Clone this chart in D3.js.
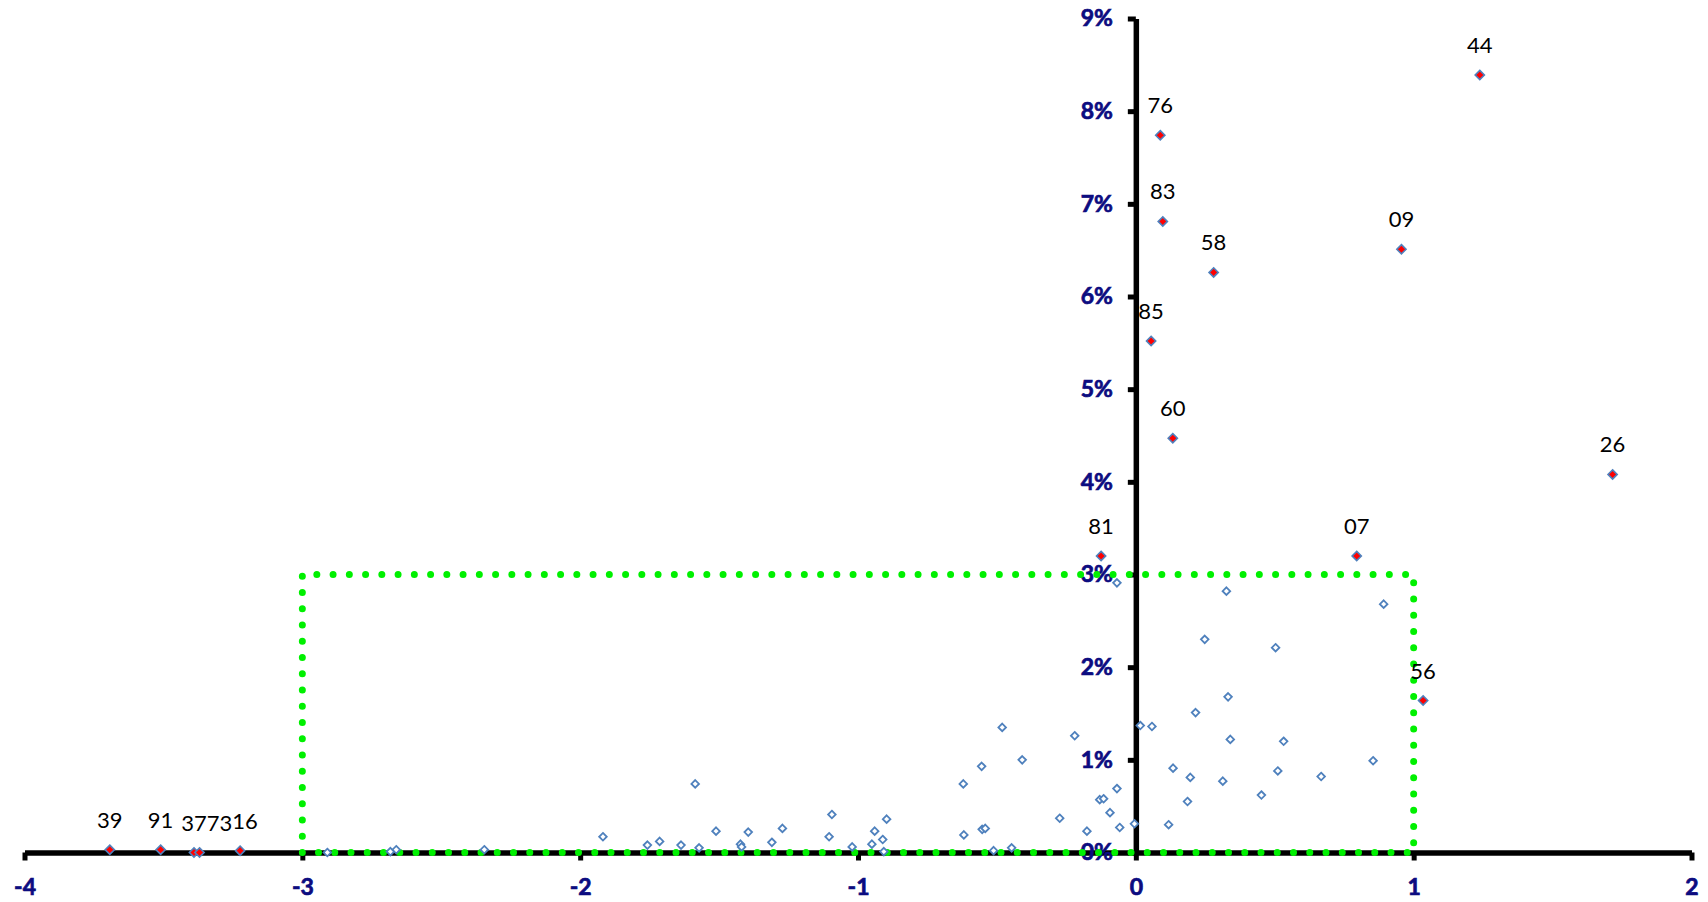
<!DOCTYPE html>
<html>
<head>
<meta charset="utf-8">
<script src="https://cdn.jsdelivr.net/npm/d3@7"></script>
<style>
  html, body { margin: 0; padding: 0; background: #ffffff; }
  svg { display: block; }
</style>
</head>
<body>
<svg id="chart" width="1708" height="902"></svg>
<script>
// ---- data ----
const xTicks = [-4, -3, -2, -1, 0, 1, 2];
const yTicks = [0, 1, 2, 3, 4, 5, 6, 7, 8, 9];

// unlabelled points (x, y in %)
const pointX = [-2.910, -2.683, -2.662, -2.345, -1.918, -1.758, -1.714, -1.637, -1.586, -1.572,
  -1.511, -1.423, -1.419, -1.395, -1.310, -1.272, -1.104, -1.094, -1.021, -0.950,
  -0.940, -0.911, -0.907, -0.897, -0.621, -0.619, -0.555, -0.553, -0.542, -0.512,
  -0.481, -0.447, -0.409, -0.274, -0.220, -0.176, -0.130, -0.116, -0.093, -0.068,
  -0.068, -0.058, -0.005, 0.016, 0.058, 0.118, 0.134, 0.186, 0.196, 0.215,
  0.248, 0.313, 0.326, 0.332, 0.340, 0.452, 0.503, 0.511, 0.532, 0.667,
  0.854, 0.892];
const pointY = [0.00, 0.01, 0.03, 0.03, 0.17, 0.08, 0.12, 0.08, 0.74, 0.05,
  0.23, 0.09, 0.06, 0.22, 0.11, 0.26, 0.17, 0.41, 0.06, 0.09,
  0.23, 0.14, 0.01, 0.36, 0.74, 0.19, 0.93, 0.25, 0.26, 0.02,
  1.35, 0.05, 1.00, 0.37, 1.26, 0.23, 0.57, 0.58, 0.43, 2.91,
  0.69, 0.27, 0.31, 1.37, 1.36, 0.30, 0.91, 0.55, 0.81, 1.51,
  2.30, 0.77, 2.82, 1.68, 1.22, 0.62, 2.21, 0.88, 1.20, 0.82,
  0.99, 2.68];

// labelled (highlighted) points
const labelNames = ["44", "76", "83", "58", "09", "85", "60", "26", "81", "07", "56", "39", "91", "37", "73", "16"];
const labelX = [1.238, 0.088, 0.097, 0.280, 0.956, 0.055, 0.133, 1.716, -0.125, 0.795, 1.034, -3.693, -3.510, -3.390, -3.370, -3.224];
const labelY = [8.39, 7.74, 6.81, 6.26, 6.51, 5.52, 4.47, 4.08, 3.20, 3.20, 1.64, 0.03, 0.03, 0.00, 0.00, 0.02];

// highlighted box bounds
const boxX = [-3, 1];
const boxY = [0, 3];

// ---- chart ----
const svg = d3.select("#chart");
const x = d3.scaleLinear().domain([-4, 2]).range([24.5, 1691.5]);
const y = d3.scaleLinear().domain([0, 9]).range([852.5, 18.5]);

const navy = "#0c0c80";
const blue = "#4f81bd";

const gx = svg.append("g").attr("transform", `translate(0,${y(0)})`)
  .call(d3.axisBottom(x).tickValues(xTicks).tickFormat(d => d3.format("d")(d).replace("−", "-"))
    .tickSize(8).tickSizeOuter(0).tickPadding(18));
const gy = svg.append("g").attr("transform", `translate(${x(0)},0)`)
  .call(d3.axisLeft(y).tickValues(yTicks).tickFormat(d => d + "%")
    .tickSize(8).tickSizeOuter(0).tickPadding(15));

[gx, gy].forEach(g => {
  g.select(".domain").attr("stroke", "#000").attr("stroke-width", 5.5);
  g.selectAll(".tick line").attr("stroke", "#000").attr("stroke-width", 5);
  g.selectAll(".tick text")
    .attr("fill", navy)
    .attr("stroke", navy)
    .attr("stroke-width", 0.7)
    .style("font-family", "Lato, 'Open Sans', sans-serif")
    .style("font-weight", "bold")
    .style("font-size", "23px");
});

// dotted green box
const boxPts = [[boxX[0], boxY[0]], [boxX[0], boxY[1]], [boxX[1], boxY[1]], [boxX[1], boxY[0]], [boxX[0], boxY[0]]];
svg.append("path")
  .attr("d", d3.line().x(d => x(d[0])).y(d => y(d[1]))(boxPts))
  .attr("fill", "none")
  .attr("stroke", "#00f000")
  .attr("stroke-width", 7)
  .attr("stroke-linecap", "round")
  .attr("stroke-linejoin", "round")
  .attr("stroke-dasharray", "0 16.25");

// square diamond symbol
const squareDiamond = {
  draw(ctx, size) {
    const r = Math.sqrt(size / 2);
    ctx.moveTo(0, -r); ctx.lineTo(r, 0); ctx.lineTo(0, r); ctx.lineTo(-r, 0); ctx.closePath();
  }
};

const pts = pointX.map((v, i) => ({ x: v, y: pointY[i] }));
svg.append("g").selectAll("path").data(pts).join("path")
  .attr("d", d3.symbol().type(squareDiamond).size(2 * 3.8 * 3.8))
  .attr("transform", d => `translate(${x(d.x)},${y(d.y)})`)
  .attr("fill", "#fff")
  .attr("stroke", blue)
  .attr("stroke-width", 1.8);

const lab = labelNames.map((n, i) => ({ name: n, x: labelX[i], y: labelY[i] }));
svg.append("g").selectAll("path").data(lab).join("path")
  .attr("d", d3.symbol().type(squareDiamond).size(2 * 4.6 * 4.6))
  .attr("transform", d => `translate(${x(d.x)},${y(d.y)})`)
  .attr("fill", "#ff0000")
  .attr("stroke", blue)
  .attr("stroke-width", 1.6);

const texts = svg.append("g").selectAll("text").data(lab).join("text")
  .attr("x", d => x(d.x))
  .attr("y", d => y(d.y) - 22)
  .attr("text-anchor", "middle")
  .attr("fill", "#000")
  .style("font-family", "Lato, 'Open Sans', sans-serif")
  .style("font-size", "22px")
  .text(d => d.name);

// simple collision avoidance: push overlapping labels to the right
const placed = [];
texts.nodes()
  .map(n => ({ n, d: d3.select(n).datum() }))
  .sort((a, b) => a.d.x - b.d.x)
  .forEach(({ n }) => {
    let bb = n.getBBox();
    placed.forEach(p => {
      const vOverlap = bb.y < p.y + p.height && p.y < bb.y + bb.height;
      if (vOverlap && bb.x < p.x + p.width && p.x < bb.x + bb.width) {
        const shift = p.x + p.width - bb.x;
        n.setAttribute("x", +n.getAttribute("x") + shift);
        bb = n.getBBox();
      }
    });
    placed.push(bb);
  });
</script>
</body>
</html>
